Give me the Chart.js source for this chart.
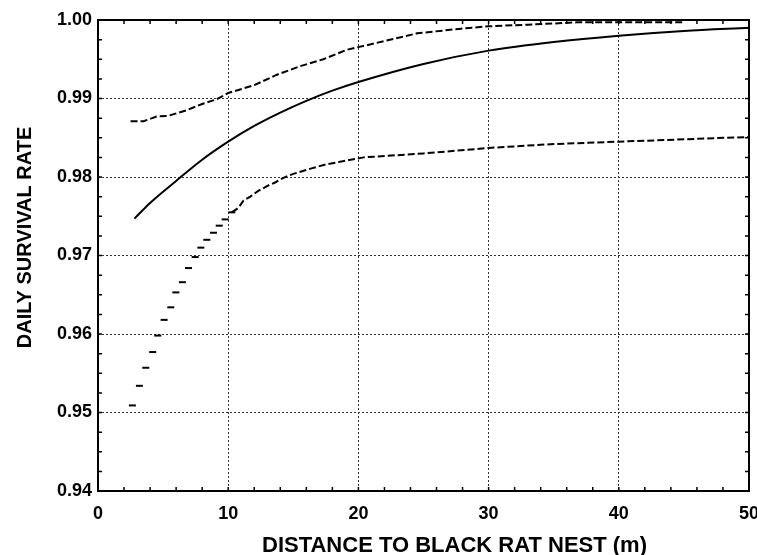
<!DOCTYPE html>
<html lang="en">
<head>
<meta charset="UTF-8">
<title>Daily survival rate vs distance to black rat nest</title>
<script src="https://cdn.jsdelivr.net/npm/chart.js"></script>
<style>
    body { margin: 0; background: #fff; }
    canvas { display: block; }
</style>
</head>
<body>
<canvas id="dsrChart" width="757" height="555"></canvas>
<script>
// values
var xTicks = [0, 10, 20, 30, 40, 50];
var yTicks = [0.94, 0.95, 0.96, 0.97, 0.98, 0.99, 1.00];
var xTitle = 'DISTANCE TO BLACK RAT NEST (m)';
var yTitle = 'DAILY SURVIVAL RATE';

var midX = [2.8, 4, 6, 8, 10, 12, 14, 16, 18, 20, 25, 30, 35, 40, 45, 50];
var midY = [0.9747, 0.9767, 0.9795, 0.9822, 0.9845, 0.9865, 0.9882, 0.9897, 0.9910, 0.9921, 0.9944, 0.9961, 0.9972, 0.9980, 0.9986, 0.9990];

var upperX = [2.5, 3.5, 4.5, 5.4, 6.8, 8, 9.1, 10, 12, 13.7, 15.5, 17.3, 19.1, 21.2, 24.5, 27.9, 30, 33, 36.8, 40, 44.9];
var upperY = [0.9871, 0.9871, 0.9877, 0.9878, 0.9885, 0.9893, 0.9899, 0.9907, 0.9917, 0.9930, 0.9941, 0.9950, 0.9962, 0.9970, 0.9983, 0.9989, 0.9992, 0.9994, 0.9997, 0.9997, 0.9997];

var lowerX = [2.64, 3.18, 3.67, 4.2, 4.59, 5.08, 5.59, 5.98, 6.48, 6.95, 7.46, 7.9, 8.36, 8.87, 9.31, 9.77, 10.28,
              10.8, 11.18, 11.7, 12.28, 13.05, 13.6, 14.25, 15.0, 16.4, 17.5, 18.5, 19.4, 20.4, 25, 30, 35, 40, 45, 50];
var lowerY = [0.9509, 0.9534, 0.9557, 0.9577, 0.9598, 0.9618, 0.9634, 0.9653, 0.9666, 0.9684, 0.9698, 0.9710, 0.9720, 0.9729, 0.9738, 0.9746, 0.9755,
              0.9761, 0.9770, 0.9775, 0.9782, 0.9789, 0.9793, 0.9799, 0.9804, 0.9811, 0.9816, 0.9819, 0.9822, 0.9825, 0.9830, 0.9837, 0.9842, 0.9845, 0.9848, 0.9851];

// the steep part of the lower bound is drawn as separate short dashes
var lowerDashCount = 17;

function toPoints(xs, ys) {
    return xs.map((x, i) => ({ x: x, y: ys[i] }));
}

var FONT = "'Liberation Sans', Arial, sans-serif";

// frame with inward minor/major ticks on all four sides, plus the axis titles
var framePlugin = {
    id: 'frame',
    afterDatasetsDraw(chart) {
        var ctx = chart.ctx, a = chart.chartArea;
        var xs = chart.scales.x, ys = chart.scales.y;
        ctx.save();
        ctx.strokeStyle = '#000';
        ctx.lineWidth = 1.5;
        ctx.beginPath();
        for (var v = 0; v <= 50.001; v += 2) {
            var px = xs.getPixelForValue(v);
            ctx.moveTo(px, a.bottom); ctx.lineTo(px, a.bottom - 4);
            ctx.moveTo(px, a.top); ctx.lineTo(px, a.top + 4);
        }
        for (var k = 0; k <= 24; k++) {
            var py = ys.getPixelForValue(0.94 + k * 0.0025);
            ctx.moveTo(a.left, py); ctx.lineTo(a.left + 4, py);
            ctx.moveTo(a.right, py); ctx.lineTo(a.right - 4, py);
        }
        ctx.stroke();
        ctx.lineWidth = 2;
        ctx.strokeRect(a.left, a.top, a.right - a.left, a.bottom - a.top);
        ctx.restore();
    },
    afterDraw(chart) {
        var ctx = chart.ctx, a = chart.chartArea;
        ctx.save();
        ctx.fillStyle = '#000';
        ctx.textAlign = 'center';
        ctx.textBaseline = 'alphabetic';
        ctx.font = 'bold 22px ' + FONT;
        // title sits a little right of the plot centre in the original
        ctx.fillText(xTitle, (a.left + a.right) / 2 + 31, 552);
        ctx.translate(31, (a.top + a.bottom) / 2 - 18);
        ctx.rotate(-Math.PI / 2);
        ctx.font = 'bold 20px ' + FONT;
        ctx.fillText(yTitle, 0, 0);
        ctx.restore();
    }
};

var ctx = document.getElementById('dsrChart').getContext('2d');
var dsrChart = new Chart(ctx, {
    type: 'line',
    data: {
        datasets: [{
            label: 'Upper',
            data: toPoints(upperX, upperY),
            borderColor: '#000',
            borderWidth: 2,
            borderDash: [7, 3],
            pointRadius: 0,
            tension: 0
        }, {
            label: 'DSR',
            data: toPoints(midX, midY),
            borderColor: '#000',
            borderWidth: 2,
            pointRadius: 0,
            cubicInterpolationMode: 'monotone'
        }, {
            label: 'Lower',
            data: toPoints(lowerX, lowerY),
            borderColor: '#000',
            borderWidth: 2,
            borderDash: [7, 3],
            pointStyle: 'line',
            pointRadius: c => c.dataIndex < lowerDashCount ? 3.5 : 0,
            pointBorderWidth: 2,
            pointBorderColor: '#000',
            tension: 0,
            segment: {
                borderColor: c => c.p0DataIndex < lowerDashCount - 1 ? 'rgba(0,0,0,0)' : '#000'
            }
        }]
    },
    options: {
        responsive: false,
        animation: false,
        layout: { padding: { left: 0, right: 8, top: 20, bottom: 0 } },
        plugins: {
            legend: { display: false },
            tooltip: { enabled: false }
        },
        scales: {
            x: {
                type: 'linear',
                min: 0,
                max: 50,
                afterBuildTicks: s => { s.ticks = xTicks.map(v => ({ value: v })); },
                afterFit: s => { s.height = 64; s.paddingLeft = 0; s.paddingRight = 0; },
                grid: { color: '#333', lineWidth: 1, drawTicks: false },
                border: { display: false, dash: [2, 2] },
                ticks: {
                    padding: 12,
                    color: '#000',
                    font: { family: FONT, size: 18, weight: 'bold' }
                }
            },
            y: {
                type: 'linear',
                min: 0.94,
                max: 1.00,
                afterBuildTicks: s => { s.ticks = yTicks.map(v => ({ value: v })); },
                afterFit: s => { s.width = 98; },
                grid: { color: '#333', lineWidth: 1, drawTicks: false },
                border: { display: false, dash: [2, 2] },
                ticks: {
                    padding: 6,
                    color: '#000',
                    font: { family: FONT, size: 18, weight: 'bold' },
                    callback: v => v.toFixed(2)
                }
            }
        }
    },
    plugins: [framePlugin]
});
</script>
</body>
</html>
